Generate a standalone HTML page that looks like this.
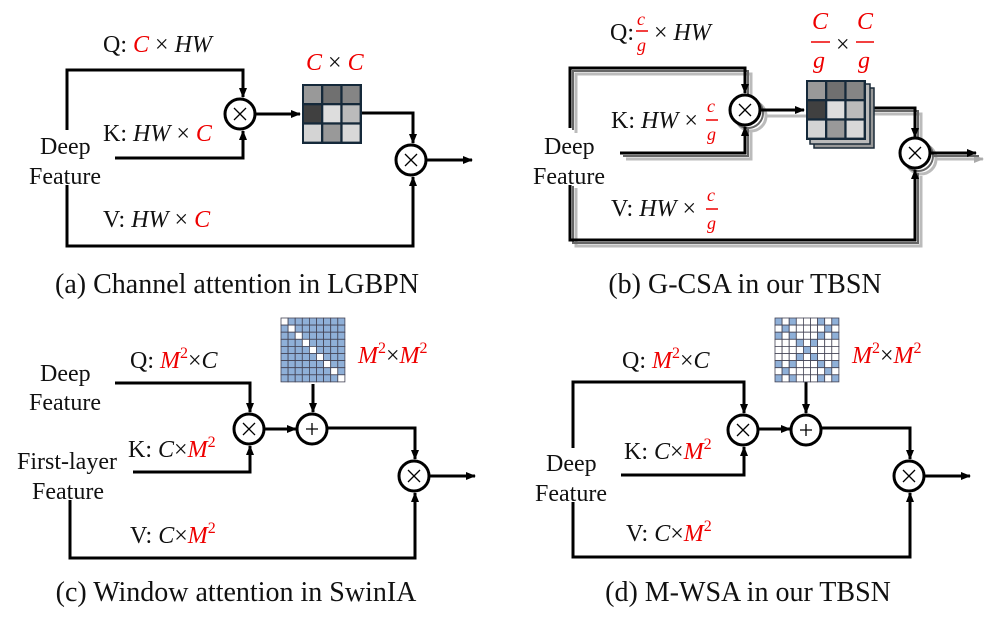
<!DOCTYPE html>
<html><head><meta charset="utf-8"><style>
html,body{margin:0;padding:0;background:#fff;}
svg{display:block;font-family:"Liberation Serif",serif;}
.t{font-size:24px;fill:#111;}
.m{font-style:italic;font-size:24px;}
.r{fill:#e00;}
.cap{font-size:28px;fill:#111;}
</style></head><body>
<svg id="s" width="997" height="622" viewBox="0 0 997 622" xmlns="http://www.w3.org/2000/svg">
<defs>
<marker id="a" markerWidth="10" markerHeight="8" refX="9" refY="4" orient="auto" markerUnits="userSpaceOnUse"><path d="M0,0 L10,4 L0,8 Z" fill="#000"/></marker>
<marker id="ag" markerWidth="10" markerHeight="8" refX="9" refY="4" orient="auto" markerUnits="userSpaceOnUse"><path d="M0,0 L10,4 L0,8 Z" fill="#aaa"/></marker>
</defs>
<g fill="none" stroke="#000" stroke-width="3">
<!-- (a) -->
<polyline points="67,130 67,70 243,70 243,97" marker-end="url(#a)"/>
<polyline points="115,158 243,158 243,131" marker-end="url(#a)"/>
<line x1="256" y1="114" x2="300" y2="114" marker-end="url(#a)"/>
<polyline points="362,113 413,113 413,143" marker-end="url(#a)"/>
<line x1="427" y1="160" x2="472" y2="160" marker-end="url(#a)"/>
<polyline points="67,185 67,246 413,246 413,177" marker-end="url(#a)"/>
<circle cx="240" cy="114" r="15" fill="#fff"/>
<circle cx="411" cy="160" r="15" fill="#fff"/>
<!-- (b) shadows -->
<g stroke="#bbb">
<polyline points="576,133 576,74 751,74 751,103"/>
<polyline points="626,159 751,159 751,131"/>
<line x1="766" y1="116" x2="810" y2="116"/>
<polyline points="872,114 921,114 921,144"/>
<line x1="936" y1="159" x2="983" y2="159" marker-end="url(#ag)"/>
<polyline points="576,188 576,246 921,246 921,176"/>
<circle cx="751" cy="116" r="15"/>
<circle cx="921" cy="159" r="15"/>
</g>
<g stroke="#666" stroke-width="2">
<polyline points="573,130 573,71 748,71 748,100"/>
<polyline points="623,156 748,156 748,128"/>
<polyline points="869,111 918,111 918,141"/>
<line x1="933" y1="156" x2="979" y2="156"/>
<polyline points="573,186 573,243 918,243 918,173"/>
<circle cx="748" cy="113" r="15"/>
<circle cx="918" cy="156" r="15"/>
</g>
<polyline points="570,128 570,68 745,68 745,93" marker-end="url(#a)"/>
<polyline points="620,153 745,153 745,127" marker-end="url(#a)"/>
<line x1="760" y1="110" x2="804" y2="110" marker-end="url(#a)"/>
<polyline points="866,108 915,108 915,137" marker-end="url(#a)"/>
<line x1="930" y1="153" x2="976" y2="153" marker-end="url(#a)"/>
<polyline points="570,185 570,240 915,240 915,170" marker-end="url(#a)"/>
<circle cx="745" cy="110" r="15" fill="#fff"/>
<circle cx="915" cy="153" r="15" fill="#fff"/>
<!-- (c) -->
<polyline points="115,383 250,383 250,412" marker-end="url(#a)"/>
<polyline points="133,472 250,472 250,446" marker-end="url(#a)"/>
<line x1="264" y1="429" x2="296" y2="429" marker-end="url(#a)"/>
<line x1="313" y1="384" x2="313" y2="412" marker-end="url(#a)"/>
<polyline points="328,428 415,428 415,459" marker-end="url(#a)"/>
<line x1="429" y1="476" x2="475" y2="476" marker-end="url(#a)"/>
<polyline points="70,500 70,558 415,558 415,493" marker-end="url(#a)"/>
<circle cx="249" cy="429" r="15" fill="#fff"/>
<circle cx="312" cy="429" r="15" fill="#fff"/>
<circle cx="414" cy="476" r="15" fill="#fff"/>
<!-- (d) -->
<polyline points="573,448 573,382 744,382 744,413" marker-end="url(#a)"/>
<polyline points="621,475 744,475 744,447" marker-end="url(#a)"/>
<line x1="758" y1="429" x2="790" y2="429" marker-end="url(#a)"/>
<line x1="806" y1="382" x2="806" y2="413" marker-end="url(#a)"/>
<polyline points="822,428 910,428 910,459" marker-end="url(#a)"/>
<line x1="924" y1="476" x2="970" y2="476" marker-end="url(#a)"/>
<polyline points="573,502 573,557 910,557 910,493" marker-end="url(#a)"/>
<circle cx="743" cy="430" r="15" fill="#fff"/>
<circle cx="806" cy="430" r="15" fill="#fff"/>
<circle cx="909" cy="476" r="15" fill="#fff"/>
</g>
<g stroke="#000" stroke-width="1.3">
<path d="M234,108 l12,12 M246,108 l-12,12"/>
<path d="M405,154 l12,12 M417,154 l-12,12"/>
<path d="M739,104 l12,12 M751,104 l-12,12"/>
<path d="M909,147 l12,12 M921,147 l-12,12"/>
<path d="M243,423 l12,12 M255,423 l-12,12"/>
<path d="M306,429 h12 M312,423 v12"/>
<path d="M408,470 l12,12 M420,470 l-12,12"/>
<path d="M737,424 l12,12 M749,424 l-12,12"/>
<path d="M800,430 h12 M806,424 v12"/>
<path d="M903,470 l12,12 M915,470 l-12,12"/>
</g>
<g id="mats"></g>
<!-- text -->
<text class="t" x="103" y="52">Q: <tspan class="m r">C</tspan> × <tspan class="m">HW</tspan></text>
<text class="t" x="306" y="70"><tspan class="m r">C</tspan> × <tspan class="m r">C</tspan></text>
<text class="t" x="103" y="141">K: <tspan class="m">HW</tspan> × <tspan class="m r">C</tspan></text>
<text class="t" x="103" y="227">V: <tspan class="m">HW</tspan> × <tspan class="m r">C</tspan></text>
<text class="t" x="40" y="154">Deep</text>
<text class="t" x="29" y="184">Feature</text>
<text class="cap" x="237" y="293" text-anchor="middle">(a) Channel attention in LGBPN</text>

<text class="t" x="610" y="40">Q:</text>
<text class="m r" x="637" y="25" style="font-size:18px">c</text><line x1="636" y1="31" x2="648" y2="31" stroke="#e00" stroke-width="1.5"/><text class="m r" x="637" y="51" style="font-size:18px">g</text>
<text class="t" x="654" y="40">× <tspan class="m">HW</tspan></text>
<text class="m r" x="812" y="29" style="font-size:24px">C</text><line x1="811" y1="42" x2="830" y2="42" stroke="#e00" stroke-width="1.5"/><text class="m r" x="813" y="68" style="font-size:24px">g</text>
<text class="t" x="836" y="52">×</text>
<text class="m r" x="857" y="29" style="font-size:24px">C</text><line x1="856" y1="42" x2="874" y2="42" stroke="#e00" stroke-width="1.5"/><text class="m r" x="858" y="68" style="font-size:24px">g</text>
<text class="t" x="611" y="128">K: <tspan class="m">HW</tspan> ×</text>
<text class="m r" x="707" y="112" style="font-size:18px">c</text><line x1="706" y1="120" x2="718" y2="120" stroke="#e00" stroke-width="1.5"/><text class="m r" x="707" y="140" style="font-size:18px">g</text>
<text class="t" x="611" y="216">V: <tspan class="m">HW</tspan> ×</text>
<text class="m r" x="707" y="201" style="font-size:18px">c</text><line x1="706" y1="209" x2="718" y2="209" stroke="#e00" stroke-width="1.5"/><text class="m r" x="707" y="229" style="font-size:18px">g</text>
<text class="t" x="544" y="154">Deep</text>
<text class="t" x="533" y="184">Feature</text>
<text class="cap" x="745" y="293" text-anchor="middle">(b) G-CSA in our TBSN</text>

<text class="t" x="130" y="368">Q: <tspan class="m r">M</tspan><tspan class="r" dy="-10" style="font-size:16px">2</tspan><tspan dy="10">×</tspan><tspan class="m">C</tspan></text>
<text class="t" x="358" y="363"><tspan class="m r">M</tspan><tspan class="r" dy="-10" style="font-size:16px">2</tspan><tspan dy="10">×</tspan><tspan class="m r">M</tspan><tspan class="r" dy="-10" style="font-size:16px">2</tspan></text>
<text class="t" x="128" y="457">K: <tspan class="m">C</tspan>×<tspan class="m r">M</tspan><tspan class="r" dy="-10" style="font-size:16px">2</tspan></text>
<text class="t" x="130" y="543">V: <tspan class="m">C</tspan>×<tspan class="m r">M</tspan><tspan class="r" dy="-10" style="font-size:16px">2</tspan></text>
<text class="t" x="40" y="381">Deep</text>
<text class="t" x="29" y="410">Feature</text>
<text class="t" x="17" y="469">First-layer</text>
<text class="t" x="32" y="499">Feature</text>
<text class="cap" x="236" y="601" text-anchor="middle">(c) Window attention in SwinIA</text>

<text class="t" x="622" y="368">Q: <tspan class="m r">M</tspan><tspan class="r" dy="-10" style="font-size:16px">2</tspan><tspan dy="10">×</tspan><tspan class="m">C</tspan></text>
<text class="t" x="852" y="363"><tspan class="m r">M</tspan><tspan class="r" dy="-10" style="font-size:16px">2</tspan><tspan dy="10">×</tspan><tspan class="m r">M</tspan><tspan class="r" dy="-10" style="font-size:16px">2</tspan></text>
<text class="t" x="624" y="459">K: <tspan class="m">C</tspan>×<tspan class="m r">M</tspan><tspan class="r" dy="-10" style="font-size:16px">2</tspan></text>
<text class="t" x="626" y="541">V: <tspan class="m">C</tspan>×<tspan class="m r">M</tspan><tspan class="r" dy="-10" style="font-size:16px">2</tspan></text>
<text class="t" x="546" y="471">Deep</text>
<text class="t" x="535" y="501">Feature</text>
<text class="cap" x="748" y="601" text-anchor="middle">(d) M-WSA in our TBSN</text>
</svg>
<script>
var g=document.getElementById('mats'),ns='http://www.w3.org/2000/svg';
function R(x,y,w,h,f,s,sw){var r=document.createElementNS(ns,'rect');r.setAttribute('x',x);r.setAttribute('y',y);r.setAttribute('width',w);r.setAttribute('height',h);r.setAttribute('fill',f);if(s){r.setAttribute('stroke',s);r.setAttribute('stroke-width',sw);}g.appendChild(r);}
var sh=[['#999','#707070','#858585'],['#404040','#ddd','#bbb'],['#d4d4d4','#999','#d8d8d8']];
function cm(x,y,off){
 if(off){R(x+8,y+8,60,60,'#999','#1a2a38',1.5);R(x+4,y+4,60,60,'#bbb','#1a2a38',1.5);}
 R(x,y,60,60,'#15293a');
 for(var i=0;i<3;i++)for(var j=0;j<3;j++)R(x+2+j*19.3,y+2+i*19.3,17,17,sh[i][j]);
}
cm(302,84,0);cm(806,80,1);
function grid(x,y,fn){var c=7.1;for(var i=0;i<9;i++)for(var j=0;j<9;j++)R(x+j*c,y+i*c,c,c,fn(i,j)?'#8fb0d8':'#fff','#445',0.8);}
grid(281,318,function(i,j){return i!=j;});
var blue={0:[0,2,6,8],1:[1,7],2:[0,2,6,8],3:[3,5],4:[4],5:[3,5],6:[0,2,6,8],7:[1,7],8:[0,2,6,8]};
grid(775,318,function(i,j){return blue[i].indexOf(j)>=0;});
</script>
</body></html>
